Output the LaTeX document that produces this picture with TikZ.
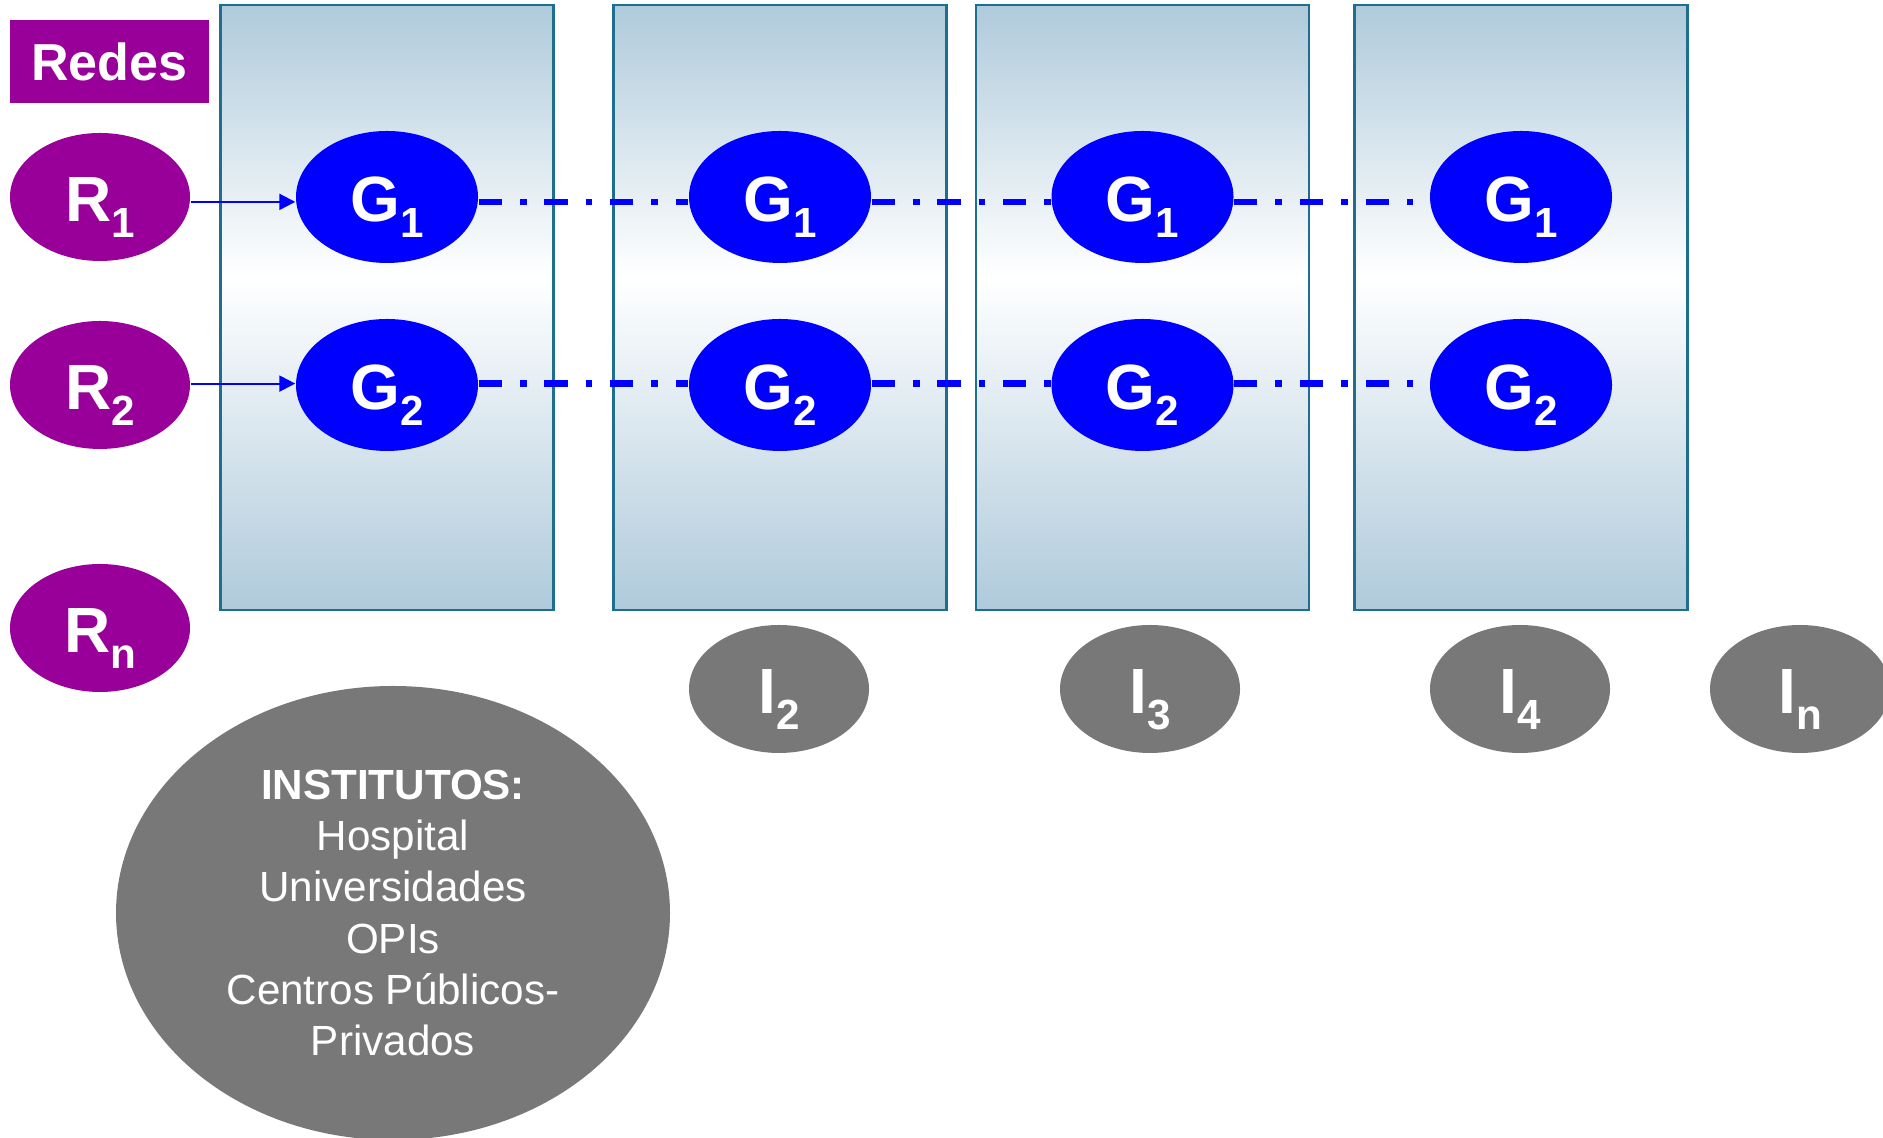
\documentclass[tikz,border=0pt]{standalone}
\usepackage{fontspec}
\setmainfont{Liberation Sans}
\usetikzlibrary{arrows.meta,shapes.geometric}

\definecolor{redpurple}{HTML}{990099}
\definecolor{grupoblue}{HTML}{0000FF}
\definecolor{instgray}{HTML}{787878}
\definecolor{panelblue}{HTML}{AFCADB}
\definecolor{paneledge}{HTML}{1E6E8E}

% blue at top and bottom, white a little above the middle
\pgfdeclareverticalshading{panelfade}{100bp}{color(0bp)=(panelblue); color(25bp)=(panelblue);
  color(52.5bp)=(white); color(75bp)=(panelblue); color(100bp)=(panelblue)}

% big letter with a lowered small index
\newcommand{\sublbl}[2]{#1\raisebox{-4.4pt}{\fontsize{12}{13}\selectfont #2}}

\begin{document}
\begin{tikzpicture}[
    panel/.style={rectangle, draw=paneledge, line width=0.8pt, shading=panelfade,
                  minimum width=3.33cm, minimum height=6.05cm, inner sep=0pt},
    net/.style={ellipse, fill=redpurple, text=white, inner sep=0pt,
                minimum width=1.80cm, minimum height=1.28cm,
                font=\fontsize{18.2}{21}\selectfont\bfseries,
                text height=18.5pt, text depth=4.4pt},
    grupo/.style={net, fill=grupoblue, minimum width=1.82cm, minimum height=1.32cm},
    inst/.style={net, fill=instgray},
    tag/.style={rectangle, fill=redpurple, text=white, inner sep=0pt,
                minimum width=1.99cm, minimum height=0.83cm,
                font=\fontsize{14.8}{17}\selectfont\bfseries},
    institutos/.style={ellipse, fill=instgray, text=white, inner sep=0pt,
                minimum width=5.54cm, minimum height=4.54cm, align=center,
                font=\fontsize{12}{14.6}\selectfont},
    link/.style={grupoblue, line width=1.9pt,
                 dash pattern=on 6.6pt off 5.1pt on 1.9pt off 5.1pt},
    feed/.style={grupoblue, line width=0.6pt, -{Triangle[length=4.5pt, width=4.5pt]}},
]
\clip (0,0) rectangle (18.83,11.38);

% Shaded panels, one per institute
\node[panel] (p1) at (3.87, 8.305) {};
\node[panel] (p2) at (7.80, 8.305) {};
\node[panel] (p3) at (11.425, 8.305) {};
\node[panel] (p4) at (15.21, 8.305) {};

% Networks on the left
\node[tag] (redes) at (1.095, 10.765) {Redes};
\node[net] (r1) at (1.00, 9.41) {\sublbl{R}{1}};
\node[net] (r2) at (1.00, 7.53) {\sublbl{R}{2}};
\node[net] (rn) at (1.00, 5.10) {\sublbl{R}{n}};

% Groups, row 1 (top)
\node[grupo] (g11) at (3.87, 9.41) {\sublbl{G}{1}};
\node[grupo] (g12) at (7.80, 9.41) {\sublbl{G}{1}};
\node[grupo] (g13) at (11.425, 9.41) {\sublbl{G}{1}};
\node[grupo] (g14) at (15.21, 9.41) {\sublbl{G}{1}};
% Groups, row 2
\node[grupo] (g21) at (3.87, 7.53) {\sublbl{G}{2}};
\node[grupo] (g22) at (7.80, 7.53) {\sublbl{G}{2}};
\node[grupo] (g23) at (11.425, 7.53) {\sublbl{G}{2}};
\node[grupo] (g24) at (15.21, 7.53) {\sublbl{G}{2}};

% Institutes below the panels
\node[inst] (i2) at (7.79, 4.49) {\sublbl{I}{2}};
\node[inst] (i3) at (11.50, 4.49) {\sublbl{I}{3}};
\node[inst] (i4) at (15.20, 4.49) {\sublbl{I}{4}};
\node[inst] (in) at (18.00, 4.49) {\sublbl{I}{n}};

\node[institutos] (inst) at (3.93, 2.25)
  {\textbf{INSTITUTOS:}\\Hospital\\Universidades\\OPIs\\Centros Públicos-\\Privados};

% Network feeds into its group
\draw[feed] ([yshift=-1.4pt]r1.east) -- ([yshift=-1.4pt]g11.west);
\draw[feed] ([yshift=0.4pt]r2.east) -- ([yshift=0.4pt]g21.west);

% Same group across institutes
\draw[link] ([yshift=-1.4pt]g11.east) -- ([yshift=-1.4pt]g12.west);
\draw[link] ([yshift=-1.4pt]g12.east) -- ([yshift=-1.4pt]g13.west);
\draw[link] ([yshift=-1.4pt]g13.east) -- ([yshift=-1.4pt]g14.west);
\draw[link] ([yshift=0.4pt]g21.east) -- ([yshift=0.4pt]g22.west);
\draw[link] ([yshift=0.4pt]g22.east) -- ([yshift=0.4pt]g23.west);
\draw[link] ([yshift=0.4pt]g23.east) -- ([yshift=0.4pt]g24.west);

\end{tikzpicture}
\end{document}
